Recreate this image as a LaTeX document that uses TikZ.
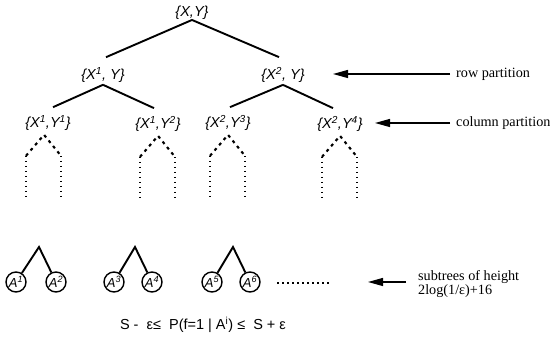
\documentclass[tikz,border=0pt]{standalone}
\usepackage{fontspec}
\setmainfont{Liberation Serif}
\setsansfont{Liberation Sans}
\usetikzlibrary{arrows.meta,calc}
\begin{document}
\begin{tikzpicture}[x=1pt,y=-1pt,
  lab/.style={font=\fontsize{14.5}{16}\selectfont\sffamily\itshape, inner sep=0pt},
  branch/.style={line width=1.9pt},
  dsh/.style={line width=2.1pt, dash pattern=on 3pt off 4pt},
  dotline/.style={line width=1.5pt, dash pattern=on 1.5pt off 3.5pt},
  leaf/.style={circle, draw, line width=1.4pt, minimum size=20pt, inner sep=0pt, font=\fontsize{13}{13}\selectfont\sffamily\itshape},
  note/.style={font=\fontsize{14.2}{14.5}\selectfont, anchor=west, inner sep=0pt, align=left},
  ptr/.style={line width=1.2pt, -{Triangle[length=15pt,width=8pt]}}]
\useasboundingbox (0,0) rectangle (550,347);

% tree labels
\node[lab] (r) at (192,13) {\{X,Y\}};
\node[lab] (a) at (103,75) {\{X\textsuperscript{1}, Y\}};
\node[lab] (b) at (283,75) {\{X\textsuperscript{2}, Y\}};
\node[lab] (c1) at (48,123) {\{X\textsuperscript{1},Y\textsuperscript{1}\}};
\node[lab] (c2) at (158,124) {\{X\textsuperscript{1},Y\textsuperscript{2}\}};
\node[lab] (c3) at (228,123) {\{X\textsuperscript{2},Y\textsuperscript{3}\}};
\node[lab] (c4) at (340,124) {\{X\textsuperscript{2},Y\textsuperscript{4}\}};

% solid branches
\draw[branch] (r.south) -- ($(a.north)+(3,-10)$);
\draw[branch] (r.south) -- ($(b.north)+(-4,-10)$);
\draw[branch] ($(a.south)+(0,2)$) -- ($(c1.north)+(5,-8)$);
\draw[branch] ($(a.south)+(0,2)$) -- ($(c2.north)+(-4,-8)$);
\draw[branch] ($(b.south)+(0,2)$) -- ($(c3.north)+(2,-8)$);
\draw[branch] ($(b.south)+(0,2)$) -- ($(c4.north)+(-7,-8)$);

% dashed chevrons with dotted legs
\foreach \n/\dx in {c1/-4,c2/0,c3/0,c4/0}{
  \coordinate (\n-ap) at ($(\n.south)+(\dx,4)$);
  \coordinate (\n-l) at ($(\n-ap)+(-18,21)$);
  \coordinate (\n-r) at ($(\n-ap)+(17,21)$);
  \draw[dsh] (\n-l) -- (\n-ap) -- (\n-r);
  \draw[dotline] (\n-l) -- ++(0,44);
  \draw[dotline] (\n-r) -- ++(0,44);
}

% bottom subtrees
\node[leaf] (A1) at (16,282) {A\textsuperscript{1}};
\node[leaf] (A2) at (56,282) {A\textsuperscript{2}};
\node[leaf] (A3) at (114,282) {A\textsuperscript{3}};
\node[leaf] (A4) at (152,282) {A\textsuperscript{4}};
\node[leaf] (A5) at (212,282) {A\textsuperscript{5}};
\node[leaf] (A6) at (250,282) {A\textsuperscript{6}};
\coordinate (t1) at (39,247);
\coordinate (t2) at (135,247);
\coordinate (t3) at (233,247);
\draw[branch] (A1) -- (t1) -- (A2);
\draw[branch] (A3) -- (t2) -- (A4);
\draw[branch] (A5) -- (t3) -- (A6);
\draw[dotline] (277,283) -- (330,283);

% side notes with arrows
\node[note] (rp) at (456,74) {row partition};
\coordinate (rpt) at (333,74);
\draw[ptr] ($(rp.west)+(-6,0)$) -- (rpt);
\node[note] (cp) at (456,123) {column partition};
\coordinate (cpt) at (375,123);
\draw[ptr] ($(cp.west)+(-6,0)$) -- (cpt);
\node[note] (sp) at (418,284) {subtrees of height\\2log(1/ε)+16};
\coordinate (spt) at (368,282);
\draw[ptr] ($(sp.west)+(-12,-2)$) -- (spt);

% formula
\node[font=\fontsize{14.5}{16}\selectfont\sffamily, inner sep=0pt] (f) at (203,325) {S -\ \ ε≤\ \ P(f=1 | A\textsuperscript{i})\ ≤\ \ S + ε};
\end{tikzpicture}
\end{document}
